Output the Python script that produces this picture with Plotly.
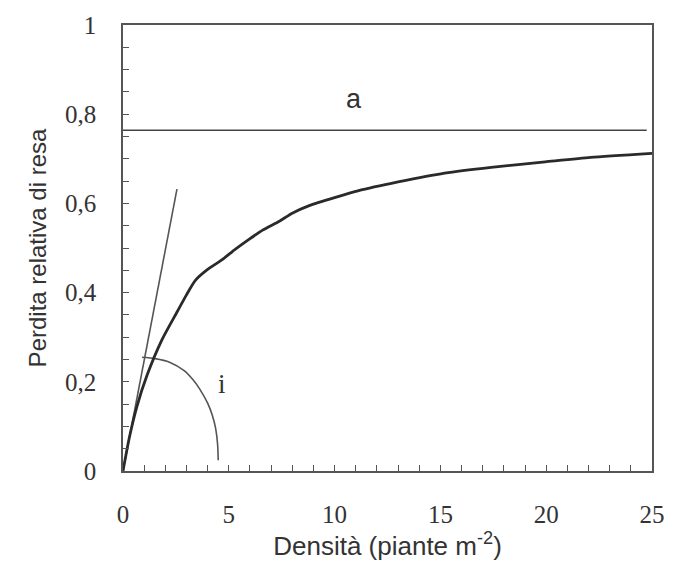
import plotly.graph_objects as go

# Data
curve_x = [0, 0.3, 0.66, 1.14, 1.85, 2.56, 3.0, 3.41, 4.0, 4.69, 5.3, 5.97, 6.6, 7.39, 8.0, 8.8, 10.0,
           11.1, 13.0, 15.2, 17.4, 19.95, 22.1, 25.0]
curve_y = [0, 0.075, 0.145, 0.215, 0.295, 0.357, 0.395, 0.427, 0.452, 0.474, 0.497, 0.52, 0.54, 0.56, 0.578,
           0.595, 0.613, 0.628, 0.648, 0.668, 0.681, 0.693, 0.703, 0.712]

asym_x = [0, 24.75]
asym_y = [0.764, 0.764]

tangent_x = [0, 2.55]
tangent_y = [0, 0.632]

arc_x = [0.9, 1.52, 2.2, 2.89, 3.3, 3.65, 4.0, 4.22, 4.38, 4.47, 4.5]
arc_y = [0.255, 0.252, 0.244, 0.225, 0.205, 0.182, 0.152, 0.125, 0.095, 0.06, 0.024]

y_tickvals = [0, 0.2, 0.4, 0.6, 0.8, 1]
y_ticktext = ["0", "0,2", "0,4", "0,6", "0,8", "1"]
x_tickvals = [0, 5, 10, 15, 20, 25]
x_ticktext = ["0", "5", "10", "15", "20", "25"]

fig = go.Figure()
fig.add_trace(go.Scatter(x=asym_x, y=asym_y, mode="lines",
                         line=dict(color="#444", width=1.6), showlegend=False))
fig.add_trace(go.Scatter(x=tangent_x, y=tangent_y, mode="lines",
                         line=dict(color="#555", width=1.6), showlegend=False))
fig.add_trace(go.Scatter(x=arc_x, y=arc_y, mode="lines", line_shape="spline",
                         line=dict(color="#555", width=1.6, smoothing=0.8), showlegend=False))
fig.add_trace(go.Scatter(x=curve_x, y=curve_y, mode="lines", line_shape="spline",
                         line=dict(color="#2a2a2a", width=2.8, smoothing=0.6), showlegend=False))

fig.add_annotation(x=10.9, y=0.835, text="a", showarrow=False,
                   font=dict(family="Liberation Sans", size=27, color="#333"))
fig.add_annotation(x=4.7, y=0.195, text="i", showarrow=False,
                   font=dict(family="Liberation Serif", size=27, color="#333"))

fig.update_layout(
    width=685, height=567,
    margin=dict(l=123, r=33, t=17, b=96),
    paper_bgcolor="white", plot_bgcolor="white",
)
fig.update_xaxes(
    range=[0, 25], tickvals=x_tickvals, ticktext=x_ticktext,
    ticks="inside", ticklen=6, tickcolor="#555", tickwidth=1.2,
    minor=dict(dtick=1, ticks="inside", ticklen=6, tickcolor="#555", tickwidth=1.2),
    showline=True, linecolor="#555", linewidth=1.6, mirror=True,
    showgrid=False, zeroline=False, ticklabelstandoff=20,
    tickfont=dict(family="Liberation Serif", size=25, color="#333"),
    title=dict(text="Densità (piante m<sup>-2</sup>)", standoff=0,
               font=dict(family="Liberation Sans", size=26, color="#333")),
)
fig.update_yaxes(
    range=[0, 1], tickvals=y_tickvals, ticktext=y_ticktext,
    ticks="inside", ticklen=6, tickcolor="#555", tickwidth=1.2,
    minor=dict(dtick=0.05, ticks="inside", ticklen=6, tickcolor="#555", tickwidth=1.2),
    showline=True, linecolor="#555", linewidth=1.6, mirror=True,
    showgrid=False, zeroline=False, ticklabelstandoff=20,
    tickfont=dict(family="Liberation Serif", size=25, color="#333"),
    title=dict(text="Perdita relativa di resa", standoff=12,
               font=dict(family="Liberation Sans", size=24, color="#333")),
)

fig.write_html("out.html")
